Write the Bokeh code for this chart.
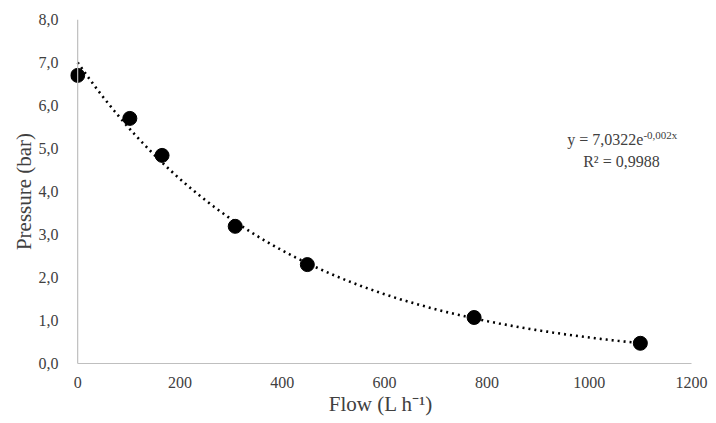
import numpy as np
from bokeh.plotting import figure
from bokeh.models import Label, FixedTicker, CustomJSTickFormatter, Range1d, Span
from bokeh.embed import file_html
from bokeh.resources import INLINE

flow = [0, 102, 165, 308, 449, 775, 1100]
pressure = [6.70, 5.70, 4.84, 3.19, 2.30, 1.07, 0.47]
x_ticks = [0, 200, 400, 600, 800, 1000, 1200]
y_ticks = [0, 1, 2, 3, 4, 5, 6, 7, 8]

# exponential trendline fitted in log space (as a spreadsheet trendline does)
b_fit, ln_a = np.polyfit(np.array(flow, float), np.log(pressure), 1)
fit_x = np.linspace(0, max(flow), 200)
fit_y = np.exp(ln_a) * np.exp(b_fit * fit_x)

FONT = "Liberation Serif"
TXT = "#404040"
AXIS = "#bfbfbf"

p = figure(width=712, height=418, output_backend="svg", toolbar_location=None,
           x_range=Range1d(-14, 1200), y_range=Range1d(0, 8),
           min_border_left=70, min_border_right=21, min_border_top=19, min_border_bottom=55)
p.outline_line_color = None
p.xgrid.grid_line_color = None
p.ygrid.grid_line_color = None

p.line(fit_x, fit_y, line_color="black", line_width=2.6, line_dash="2 4")
p.scatter(flow, pressure, size=14, color="black")

for ax in (p.xaxis[0], p.yaxis[0]):
    ax.axis_line_color = AXIS
    ax.axis_line_width = 1.2
    ax.major_tick_line_color = None
    ax.minor_tick_line_color = None
    ax.major_label_text_font = FONT
    ax.major_label_text_font_size = "16px"
    ax.major_label_text_color = TXT
    ax.axis_label_text_font = FONT
    ax.axis_label_text_font_style = "normal"
    ax.axis_label_text_font_size = "21px"
    ax.axis_label_text_color = TXT

# y axis line drawn at Flow = 0 so the first marker is not clipped
p.yaxis.axis_line_color = None
p.add_layout(Span(location=0, dimension="height", line_color=AXIS, line_width=1.2))
p.xaxis.bounds = (0, 1200)
p.xaxis.ticker = FixedTicker(ticks=x_ticks)
p.yaxis.ticker = FixedTicker(ticks=y_ticks)
p.yaxis.formatter = CustomJSTickFormatter(code="return tick.toFixed(1).replace('.', ',');")
p.xaxis.major_label_standoff = 7
p.yaxis.major_label_standoff = 6
p.xaxis.axis_label = "Flow (L h\u207b\u00b9)"
p.xaxis.axis_label_standoff = 1
p.yaxis.axis_label = "Pressure (bar)"
p.yaxis.axis_label_standoff = 0

p.add_layout(Label(x=1106, y=5.21, text="y = 7,0322e", text_align="right", text_baseline="middle",
                   text_font=FONT, text_font_size="16px", text_color=TXT))
p.add_layout(Label(x=1106, y=5.32, text="-0,002x", text_align="left", text_baseline="middle",
                   text_font=FONT, text_font_size="11px", text_color=TXT))
p.add_layout(Label(x=1063, y=4.70, text="R\u00b2 = 0,9988", text_align="center", text_baseline="middle",
                   text_font=FONT, text_font_size="16px", text_color=TXT))

open("out.html", "w").write(file_html(p, INLINE))
